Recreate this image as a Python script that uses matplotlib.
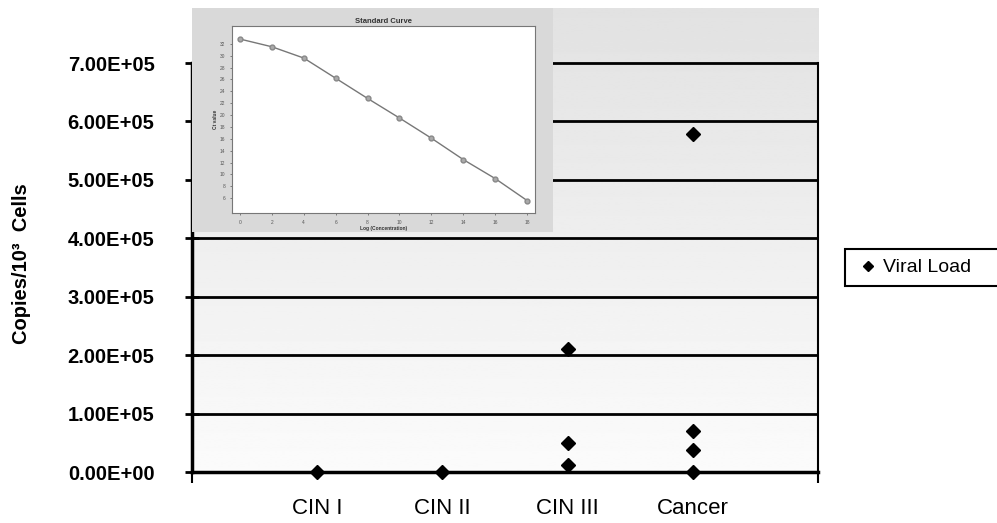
import numpy as np
import matplotlib
matplotlib.use('Agg')
import matplotlib.pyplot as plt
from matplotlib.patches import Rectangle

# main chart data
categories = ['CIN I', 'CIN II', 'CIN III', 'Cancer']
cin1 = [0.0]
cin2 = [0.0]
cin3 = [2.1e5, 0.5e5, 0.12e5]
cancer = [5.78e5, 0.70e5, 0.38e5, 0.0]
yticks = [0, 1e5, 2e5, 3e5, 4e5, 5e5, 6e5, 7e5]
ytick_labels = ['0.00E+00', '1.00E+05', '2.00E+05', '3.00E+05',
                '4.00E+05', '5.00E+05', '6.00E+05', '7.00E+05']

# inset standard curve
std_x = [0, 2, 4, 6, 8, 10, 12, 14, 16, 18]
std_y = [32.8, 31.5, 29.6, 26.2, 22.8, 19.5, 16.1, 12.5, 9.3, 5.6]

plt.rcParams['font.family'] = ['Liberation Sans', 'DejaVu Sans']

fig = plt.figure(figsize=(9.97, 5.23), dpi=100)
fig.patch.set_facecolor('white')
ax = fig.add_axes([0.1926, 0.0975, 0.628, 0.887])

ymax = 7.94e5
ax.set_xlim(0, 5)
ax.set_ylim(0, ymax)

# gradient background, grey at top to near white at bottom
grad = np.linspace(0.985, 0.885, 256).reshape(-1, 1)
ax.imshow(grad, cmap='gray', vmin=0, vmax=1, aspect='auto',
          extent=[0, 5, 0, ymax], origin='lower', zorder=0)

for v in yticks[1:]:
    ax.axhline(v, color='black', lw=2, zorder=1)

groups = [cin1, cin2, cin3, cancer]
for i, vals in enumerate(groups):
    ax.plot([i + 1] * len(vals), vals, 'D', color='black', ms=7.5,
            zorder=3, clip_on=False, label='Viral Load' if i == 0 else None)

ax.spines['top'].set_visible(False)
ax.spines['left'].set_linewidth(2.5)
ax.spines['left'].set_bounds(0, 7e5)
ax.spines['right'].set_linewidth(1.5)
ax.spines['right'].set_bounds(0, 7e5)
ax.spines['bottom'].set_linewidth(2.5)

ax.set_yticks(yticks)
ax.set_yticklabels(ytick_labels, fontsize=14.5, fontweight='bold')
ax.tick_params(axis='y', direction='inout', length=10, width=2, pad=22)

ax.set_xticks([0, 5])
ax.set_xticklabels(['', ''])
ax.tick_params(axis='x', which='major', direction='out', length=8, width=1.5)
ax.set_xticks([1, 2, 3, 4], minor=True)
ax.set_xticklabels(categories, minor=True, fontsize=16)
ax.tick_params(axis='x', which='minor', length=0, pad=19)

fig.text(0.022, 0.495, 'Copies/10³  Cells', rotation=90, ha='center',
         va='center', fontsize=14.5, fontweight='bold')

# legend box runs off the right edge of the picture
fig.patches.append(Rectangle((845 / 997, 1 - 286 / 523), 0.2, 37 / 523,
                             transform=fig.transFigure, facecolor='white',
                             edgecolor='black', lw=1.5, zorder=-1))
leg = fig.legend(loc='center left', bbox_to_anchor=(0.849, 0.4885),
                 frameon=False, fontsize=14, handlelength=0.6,
                 handletextpad=0.5, borderpad=0.3, markerscale=0.65)
leg.set_zorder(10)

# inset picture of the standard curve
fig.patches.append(Rectangle((0.1926, 0.5564), 0.362, 0.428,
                             transform=fig.transFigure, facecolor='#d9d9d9',
                             edgecolor='none', zorder=5))
ins = fig.add_axes([0.2327, 0.5927, 0.304, 0.3576], zorder=6)
ins.plot(std_x, std_y, '-o', color='#777777', lw=1, ms=3.5,
         mfc='#aaaaaa', mec='#888888')
ins.set_xlim(-0.5, 18.5)
ins.set_ylim(3.5, 35)
ins.set_xticks(std_x)
ins.set_yticks(range(6, 33, 2))
ins.tick_params(labelsize=3.5, length=1.5, width=0.5, colors='#555555')
for s in ins.spines.values():
    s.set_color('#777777')
    s.set_linewidth(0.8)
ins.set_title('Standard Curve', fontsize=5.5, fontweight='bold', pad=2,
              color='#333333')
ins.set_xlabel('Log (Concentration)', fontsize=3.5, fontweight='bold',
               labelpad=1, color='#333333')
ins.set_ylabel('Ct value', fontsize=3.5, fontweight='bold', labelpad=1,
               color='#333333')

fig.savefig('out.png', dpi=100)
